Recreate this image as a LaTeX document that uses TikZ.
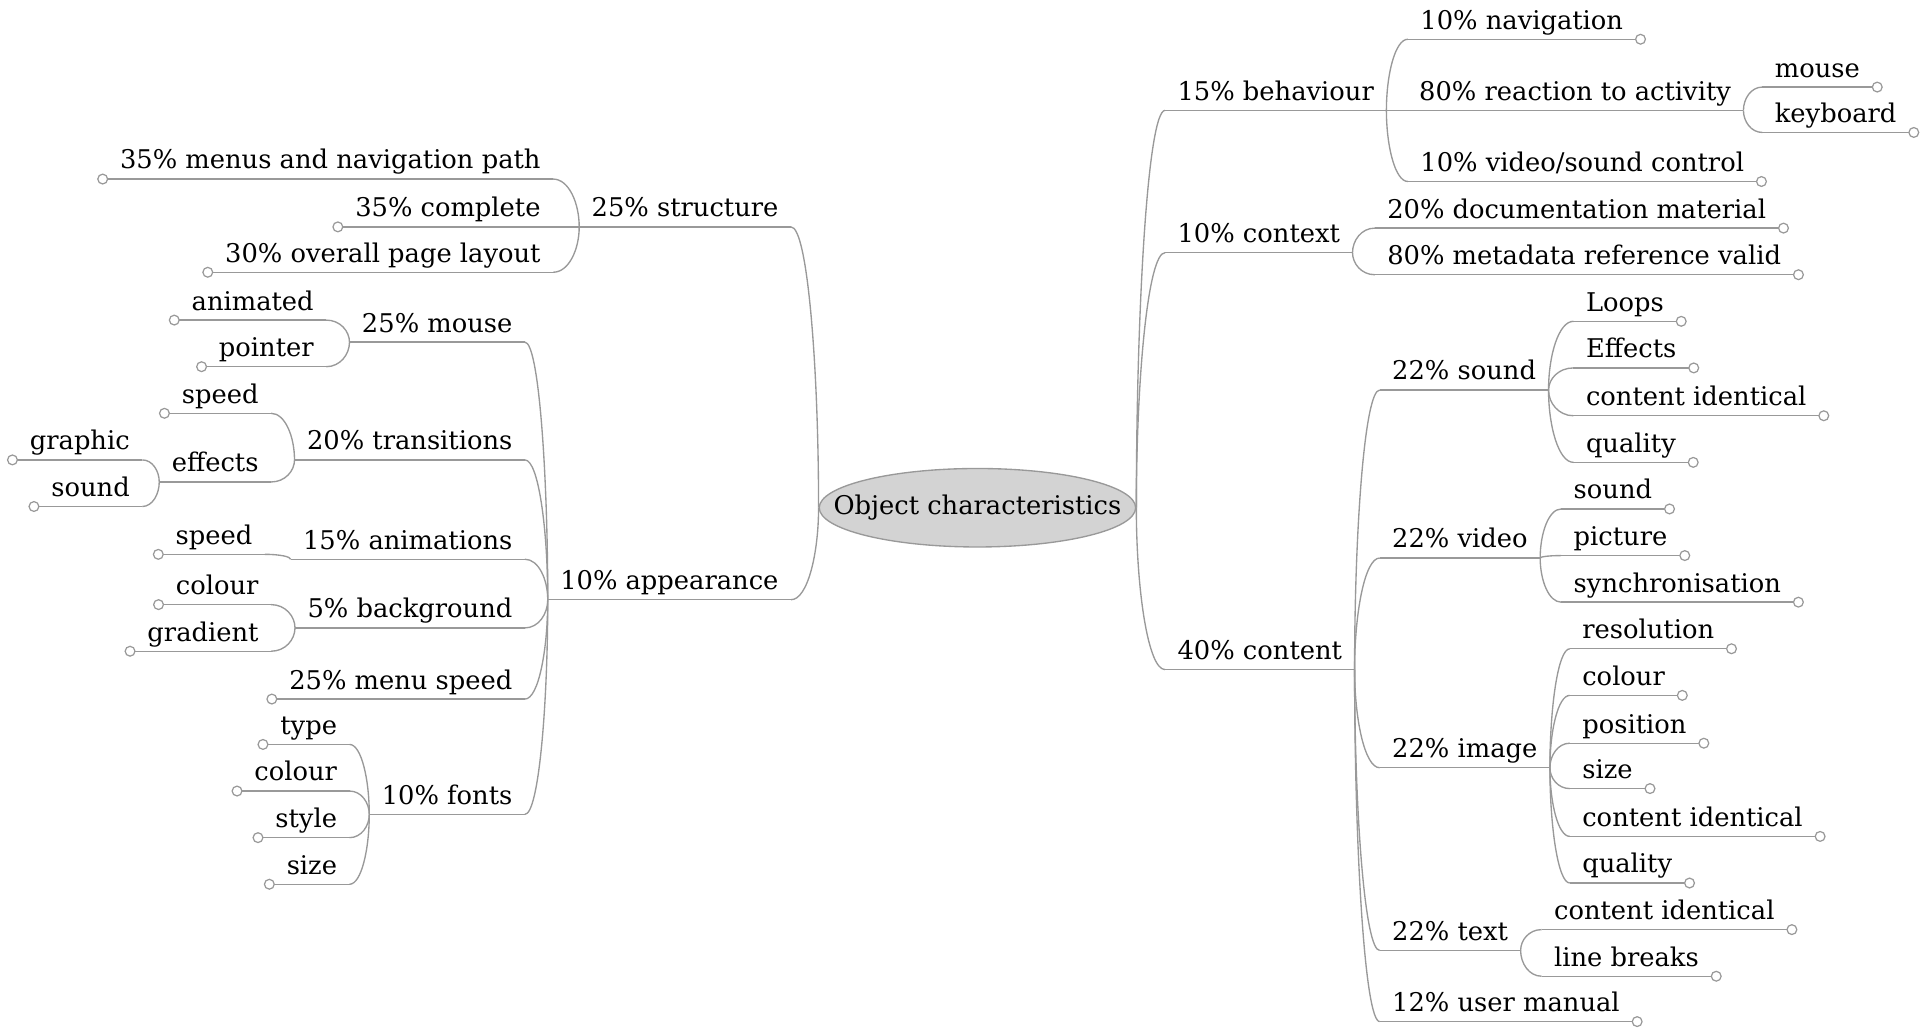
\documentclass[tikz,border=0pt]{standalone}
\usepackage{fontspec}
\setmainfont{DejaVu Serif}
\usetikzlibrary{calc,shapes.geometric}
\definecolor{linegray}{HTML}{999999}
\definecolor{rootfill}{HTML}{D3D3D3}
\newcommand{\mmfont}{\fontsize{21}{25}\selectfont}
\tikzstyle{uline} = [draw=linegray, line width=1.1pt]
\tikzstyle{dotr} = [draw=linegray, line width=1pt, fill=white, to path={([xshift=4pt]\tikztostart) circle[radius=4pt]}]
\tikzstyle{dotl} = [draw=linegray, line width=1pt, fill=white, to path={([xshift=-4pt]\tikztostart) circle[radius=4pt]}]
\tikzstyle{topic} = [font=\mmfont, inner xsep=10pt, inner ysep=0pt, text height=15pt, text depth=8pt,
  append after command={(\tikzlastnode.south west) edge[uline] (\tikzlastnode.south east)}]
\tikzstyle{tr} = [topic, anchor=south west]
\tikzstyle{tl} = [topic, anchor=south east]
\tikzstyle{leafr} = [tr, append after command={(\tikzlastnode.south east) edge[dotr] (\tikzlastnode.south east)}]
\tikzstyle{leafl} = [tl, append after command={(\tikzlastnode.south west) edge[dotl] (\tikzlastnode.south west)}]
\tikzstyle{centre} = [ellipse, draw=linegray, line width=1.1pt, fill=rootfill, minimum width=258pt, minimum height=64pt, inner sep=0pt, font=\mmfont]
\tikzstyle{link} = [draw=linegray, line width=1.1pt,
  to path={.. controls ($(\tikztostart)!0.5!(\tikztostart|-\tikztotarget)$) and ($(\tikztotarget)!0.6!(\tikztotarget-|\tikztostart)$) .. (\tikztotarget)}]
\begin{document}
\begin{tikzpicture}[x=1pt, y=-1pt]
		\useasboundingbox (0,0) rectangle (1568,840);
		\node[centre] (root) at (797,414) {\makebox[180pt]{Object characteristics}};
		% right side
		\node[tr] (beh) at (950,90) {15\% behaviour};
		\node[leafr] (navi) at (1148,32) {10\% navigation};
		\node[tr] (react) at (1147,90) {80\% reaction to activity};
		\node[leafr] (rmouse) at (1437,71) {mouse};
		\node[leafr] (rkeyb) at (1437,108) {keyboard};
		\node[leafr] (vsc) at (1148,148) {10\% video/sound control};
		\node[tr] (ctx) at (950,206) {10\% context};
		\node[leafr] (docu) at (1121,186) {20\% documentation material};
		\node[leafr] (meta) at (1121,224) {80\% metadata reference valid};
		\node[tr] (cont) at (950,546) {40\% content};
		\node[tr] (csound) at (1125,318) {22\% sound};
		\node[leafr] (loops) at (1283,262) {Loops};
		\node[leafr] (seff) at (1283,300) {Effects};
		\node[leafr] (sident) at (1283,339) {content identical};
		\node[leafr] (squal) at (1283,377) {quality};
		\node[tr] (cvideo) at (1125,455) {22\% video};
		\node[leafr] (vsound) at (1273,415) {sound};
		\node[leafr] (vpic) at (1273,453) {picture};
		\node[leafr] (vsync) at (1273,491) {synchronisation};
		\node[tr] (cimage) at (1125,626) {22\% image};
		\node[leafr] (ires) at (1280,529) {resolution};
		\node[leafr] (icol) at (1280,567) {colour};
		\node[leafr] (ipos) at (1280,606) {position};
		\node[leafr] (isize) at (1280,643) {size};
		\node[leafr] (iident) at (1280,682) {content identical};
		\node[leafr] (iqual) at (1280,720) {quality};
		\node[tr] (ctext) at (1125,775) {22\% text};
		\node[leafr] (tident) at (1257,758) {content identical};
		\node[leafr] (tbreak) at (1257,796) {line breaks};
		\node[leafr] (manual) at (1125,833) {12\% user manual};
		% left side
		\node[tl] (struc) at (645,185) {25\% structure};
		\node[leafl] (menus) at (451,146) {35\% menus and navigation path};
		\node[leafl] (compl) at (451,185) {35\% complete};
		\node[leafl] (layout) at (451,222) {30\% overall page layout};
		\node[tl] (appear) at (645,489) {10\% appearance};
		\node[tl] (amouse) at (428,279) {25\% mouse};
		\node[leafl] (anim) at (266,261) {animated};
		\node[leafl] (point) at (266,299) {pointer};
		\node[tl] (trans) at (428,375) {20\% transitions};
		\node[leafl] (tspeed) at (221,337) {speed};
		\node[tl] (teff) at (221,393) {effects};
		\node[leafl] (graph) at (116,375) {graphic};
		\node[leafl] (esound) at (116,413) {sound};
		\node[tl] (anims) at (428,456) {15\% animations};
		\node[leafl] (aspeed) at (216,452) {speed};
		\node[tl] (backg) at (428,512) {5\% background};
		\node[leafl] (bcol) at (221,493) {colour};
		\node[leafl] (bgrad) at (221,531) {gradient};
		\node[leafl] (mspeed) at (428,570) {25\% menu speed};
		\node[tl] (fonts) at (428,664) {10\% fonts};
		\node[leafl] (ftype) at (285,607) {type};
		\node[leafl] (fcol) at (285,645) {colour};
		\node[leafl] (fstyle) at (285,683) {style};
		\node[leafl] (fsize) at (285,721) {size};

		\draw[link] (root.east) to (beh.south west);
		\draw[link] (root.east) to (ctx.south west);
		\draw[link] (root.east) to (cont.south west);
		\draw[link] (beh.south east) to (navi.south west);
		\draw[link] (beh.south east) to (react.south west);
		\draw[link] (beh.south east) to (vsc.south west);
		\draw[link] (react.south east) to (rmouse.south west);
		\draw[link] (react.south east) to (rkeyb.south west);
		\draw[link] (ctx.south east) to (docu.south west);
		\draw[link] (ctx.south east) to (meta.south west);
		\draw[link] (cont.south east) to (csound.south west);
		\draw[link] (cont.south east) to (cvideo.south west);
		\draw[link] (cont.south east) to (cimage.south west);
		\draw[link] (cont.south east) to (ctext.south west);
		\draw[link] (cont.south east) to (manual.south west);
		\draw[link] (csound.south east) to (loops.south west);
		\draw[link] (csound.south east) to (seff.south west);
		\draw[link] (csound.south east) to (sident.south west);
		\draw[link] (csound.south east) to (squal.south west);
		\draw[link] (cvideo.south east) to (vsound.south west);
		\draw[link] (cvideo.south east) to (vpic.south west);
		\draw[link] (cvideo.south east) to (vsync.south west);
		\draw[link] (cimage.south east) to (ires.south west);
		\draw[link] (cimage.south east) to (icol.south west);
		\draw[link] (cimage.south east) to (ipos.south west);
		\draw[link] (cimage.south east) to (isize.south west);
		\draw[link] (cimage.south east) to (iident.south west);
		\draw[link] (cimage.south east) to (iqual.south west);
		\draw[link] (ctext.south east) to (tident.south west);
		\draw[link] (ctext.south east) to (tbreak.south west);
		\draw[link] (root.west) to (struc.south east);
		\draw[link] (root.west) to (appear.south east);
		\draw[link] (struc.south west) to (menus.south east);
		\draw[link] (struc.south west) to (compl.south east);
		\draw[link] (struc.south west) to (layout.south east);
		\draw[link] (appear.south west) to (amouse.south east);
		\draw[link] (appear.south west) to (trans.south east);
		\draw[link] (appear.south west) to (anims.south east);
		\draw[link] (appear.south west) to (backg.south east);
		\draw[link] (appear.south west) to (mspeed.south east);
		\draw[link] (appear.south west) to (fonts.south east);
		\draw[link] (amouse.south west) to (anim.south east);
		\draw[link] (amouse.south west) to (point.south east);
		\draw[link] (trans.south west) to (tspeed.south east);
		\draw[link] (trans.south west) to (teff.south east);
		\draw[link] (teff.south west) to (graph.south east);
		\draw[link] (teff.south west) to (esound.south east);
		\draw[link] (anims.south west) to (aspeed.south east);
		\draw[link] (backg.south west) to (bcol.south east);
		\draw[link] (backg.south west) to (bgrad.south east);
		\draw[link] (fonts.south west) to (ftype.south east);
		\draw[link] (fonts.south west) to (fcol.south east);
		\draw[link] (fonts.south west) to (fstyle.south east);
		\draw[link] (fonts.south west) to (fsize.south east);
\end{tikzpicture}
\end{document}
